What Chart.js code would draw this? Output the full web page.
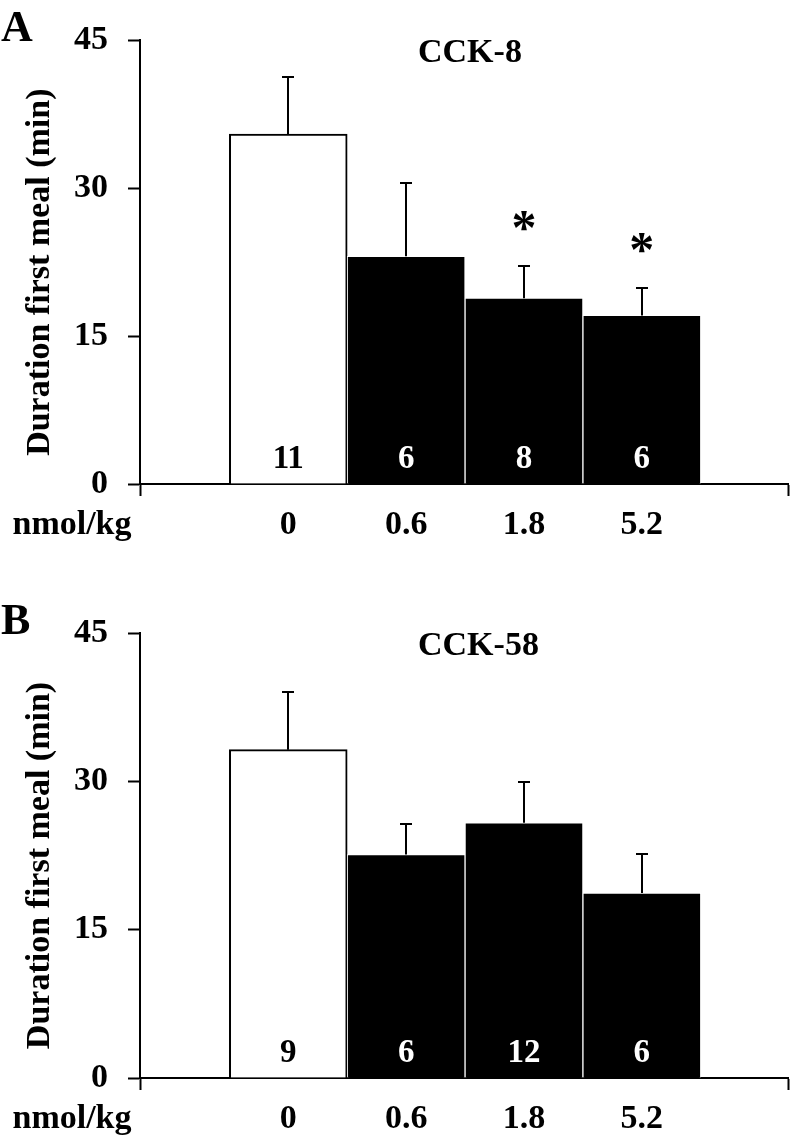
<!DOCTYPE html>
<html><head><meta charset="utf-8">
<script src="https://cdn.jsdelivr.net/npm/chart.js@4.4.1/dist/chart.umd.min.js"></script>
<style>html,body{margin:0;padding:0;background:#fff;}canvas{display:block;}</style>
</head><body>
<canvas id="chartA" width="792" height="568"></canvas>
<canvas id="chartB" width="792" height="568"></canvas>
<script>
// ---- data ----
const doseLabels = ['0', '0.6', '1.8', '5.2'];
const doseUnit = 'nmol/kg';
const yTitleText = 'Duration first meal (min)';
const yMax = 45;
const yStep = 15;

const cck8Means = [35.5, 23.1, 18.85, 17.1];
const cck8Errors = [5.8, 7.4, 3.3, 2.8];
const cck8N = ['11', '6', '8', '6'];
const cck8Sig = [false, false, true, true];

const cck58Means = [33.2, 22.6, 25.8, 18.7];
const cck58Errors = [5.8, 3.1, 4.1, 3.95];
const cck58N = ['9', '6', '12', '6'];
const cck58Sig = [false, false, false, false];

// ---- drawing ----
const FONT = 'Liberation Serif';
Chart.defaults.font.family = FONT;
Chart.defaults.color = '#000';

function makeChart(id, cfg) {
  const { panel, title, means, errors, ns, sig, top, bottom } = cfg;
  const H = 568;
  const fills = means.map((_, i) => i === 0 ? '#ffffff' : '#000000');
  const borders = means.map((_, i) => i === 0 ? '#000000' : '#ffffff');
  const bws = means.map((_, i) => i === 0 ? 2 : 1);

  const overlay = {
    id: 'overlay' + id,
    afterDatasetsDraw(chart) {
      const ctx = chart.ctx;
      const ys = chart.scales.y;
      const meta = chart.getDatasetMeta(0);
      ctx.save();
      ctx.strokeStyle = '#000';
      ctx.lineWidth = 2;
      meta.data.forEach((bar, i) => {
        const yTop = Math.round(ys.getPixelForValue(means[i] + errors[i]));
        const x = Math.round(bar.x);
        ctx.beginPath();
        ctx.moveTo(x, bar.y);
        ctx.lineTo(x, yTop);
        ctx.moveTo(x - 6, yTop);
        ctx.lineTo(x + 6, yTop);
        ctx.stroke();
      });
      ctx.restore();
    },
    afterDraw(chart) {
      const ctx = chart.ctx;
      const ys = chart.scales.y;
      const xs = chart.scales.x;
      const area = chart.chartArea;
      const meta = chart.getDatasetMeta(0);
      ctx.save();
      // n labels
      ctx.font = 'bold 33px ' + FONT;
      ctx.textAlign = 'center';
      ctx.textBaseline = 'alphabetic';
      meta.data.forEach((bar, i) => {
        ctx.fillStyle = i === 0 ? '#000' : '#fff';
        ctx.fillText(ns[i], bar.x, area.bottom - 16);
      });
      // significance
      ctx.fillStyle = '#000';
      ctx.font = 'bold 50px ' + FONT;
      meta.data.forEach((bar, i) => {
        if (!sig[i]) return;
        const yTop = ys.getPixelForValue(means[i] + errors[i]);
        ctx.fillText('*', bar.x, yTop - 22);
      });
      // title
      ctx.font = 'bold 34px ' + FONT;
      ctx.textAlign = 'left';
      ctx.fillText(title, 418, area.top + 22);
      // panel letter
      ctx.font = 'bold 44px ' + FONT;
      ctx.fillText(panel, 1, area.top + 1);
      // unit label in line with tick labels
      ctx.font = 'bold 34px ' + FONT;
      ctx.textAlign = 'center';
      ctx.textBaseline = 'middle';
      ctx.fillText(doseUnit, 72, xs.top + 12 + 9 + 20.4);
      // y title
      ctx.translate(40, (area.top + area.bottom) / 2 + 10);
      ctx.rotate(-Math.PI / 2);
      ctx.fillText(yTitleText, 0, 0);
      ctx.restore();
    }
  };

  return new Chart(document.getElementById(id), {
    type: 'bar',
    data: {
      datasets: [{
        data: means.map((v, i) => ({ x: i + 1, y: v })),
        backgroundColor: fills,
        borderColor: borders,
        borderWidth: bws,
        borderSkipped: 'bottom',
        categoryPercentage: 1,
        barPercentage: 1
      }]
    },
    options: {
      responsive: false,
      animation: false,
      devicePixelRatio: 1,
      layout: { padding: { top: top, right: 4, left: 0, bottom: 0 } },
      plugins: { legend: { display: false }, tooltip: { enabled: false } },
      scales: {
        x: {
          type: 'linear',
          offset: false,
          min: -0.258,
          max: 5.24,
          afterBuildTicks: s => {
            s.ticks = [s.min, 1, 2, 3, 4, s.max].map(v => ({ value: v }));
          },
          afterFit: s => { s.height = H - bottom; s.paddingRight = 0; s.paddingLeft = 0; },
          ticks: {
            autoSkip: false,
            maxRotation: 0,
            padding: 9,
            font: { size: 34, weight: 'bold' },
            color: '#000',
            callback: (v) => {
              const r = Math.round(v);
              return (Math.abs(v - r) < 1e-6 && r >= 1 && r <= doseLabels.length) ? doseLabels[r - 1] : '';
            }
          },
          grid: {
            display: true,
            offset: false,
            drawOnChartArea: false,
            drawTicks: true,
            tickLength: 12,
            tickWidth: 2,
            tickColor: c => (c.index === 0 || c.index === 5) ? '#000' : 'rgba(0,0,0,0)'
          },
          border: { display: true, color: '#000', width: 2 }
        },
        y: {
          min: 0,
          max: yMax,
          afterFit: s => { s.width = 140; },
          ticks: {
            stepSize: yStep,
            padding: 20,
            font: { size: 34, weight: 'bold' },
            color: '#000'
          },
          grid: {
            display: true,
            drawOnChartArea: false,
            drawTicks: true,
            tickLength: 12,
            tickWidth: 2,
            tickColor: '#000'
          },
          border: { display: true, color: '#000', width: 2 }
        }
      }
    },
    plugins: [overlay]
  });
}

makeChart('chartA', { panel: 'A', title: 'CCK-8', means: cck8Means, errors: cck8Errors, ns: cck8N, sig: cck8Sig, top: 40, bottom: 484 });
makeChart('chartB', { panel: 'B', title: 'CCK-58', means: cck58Means, errors: cck58Errors, ns: cck58N, sig: cck58Sig, top: 65, bottom: 510 });
</script>
</body></html>
